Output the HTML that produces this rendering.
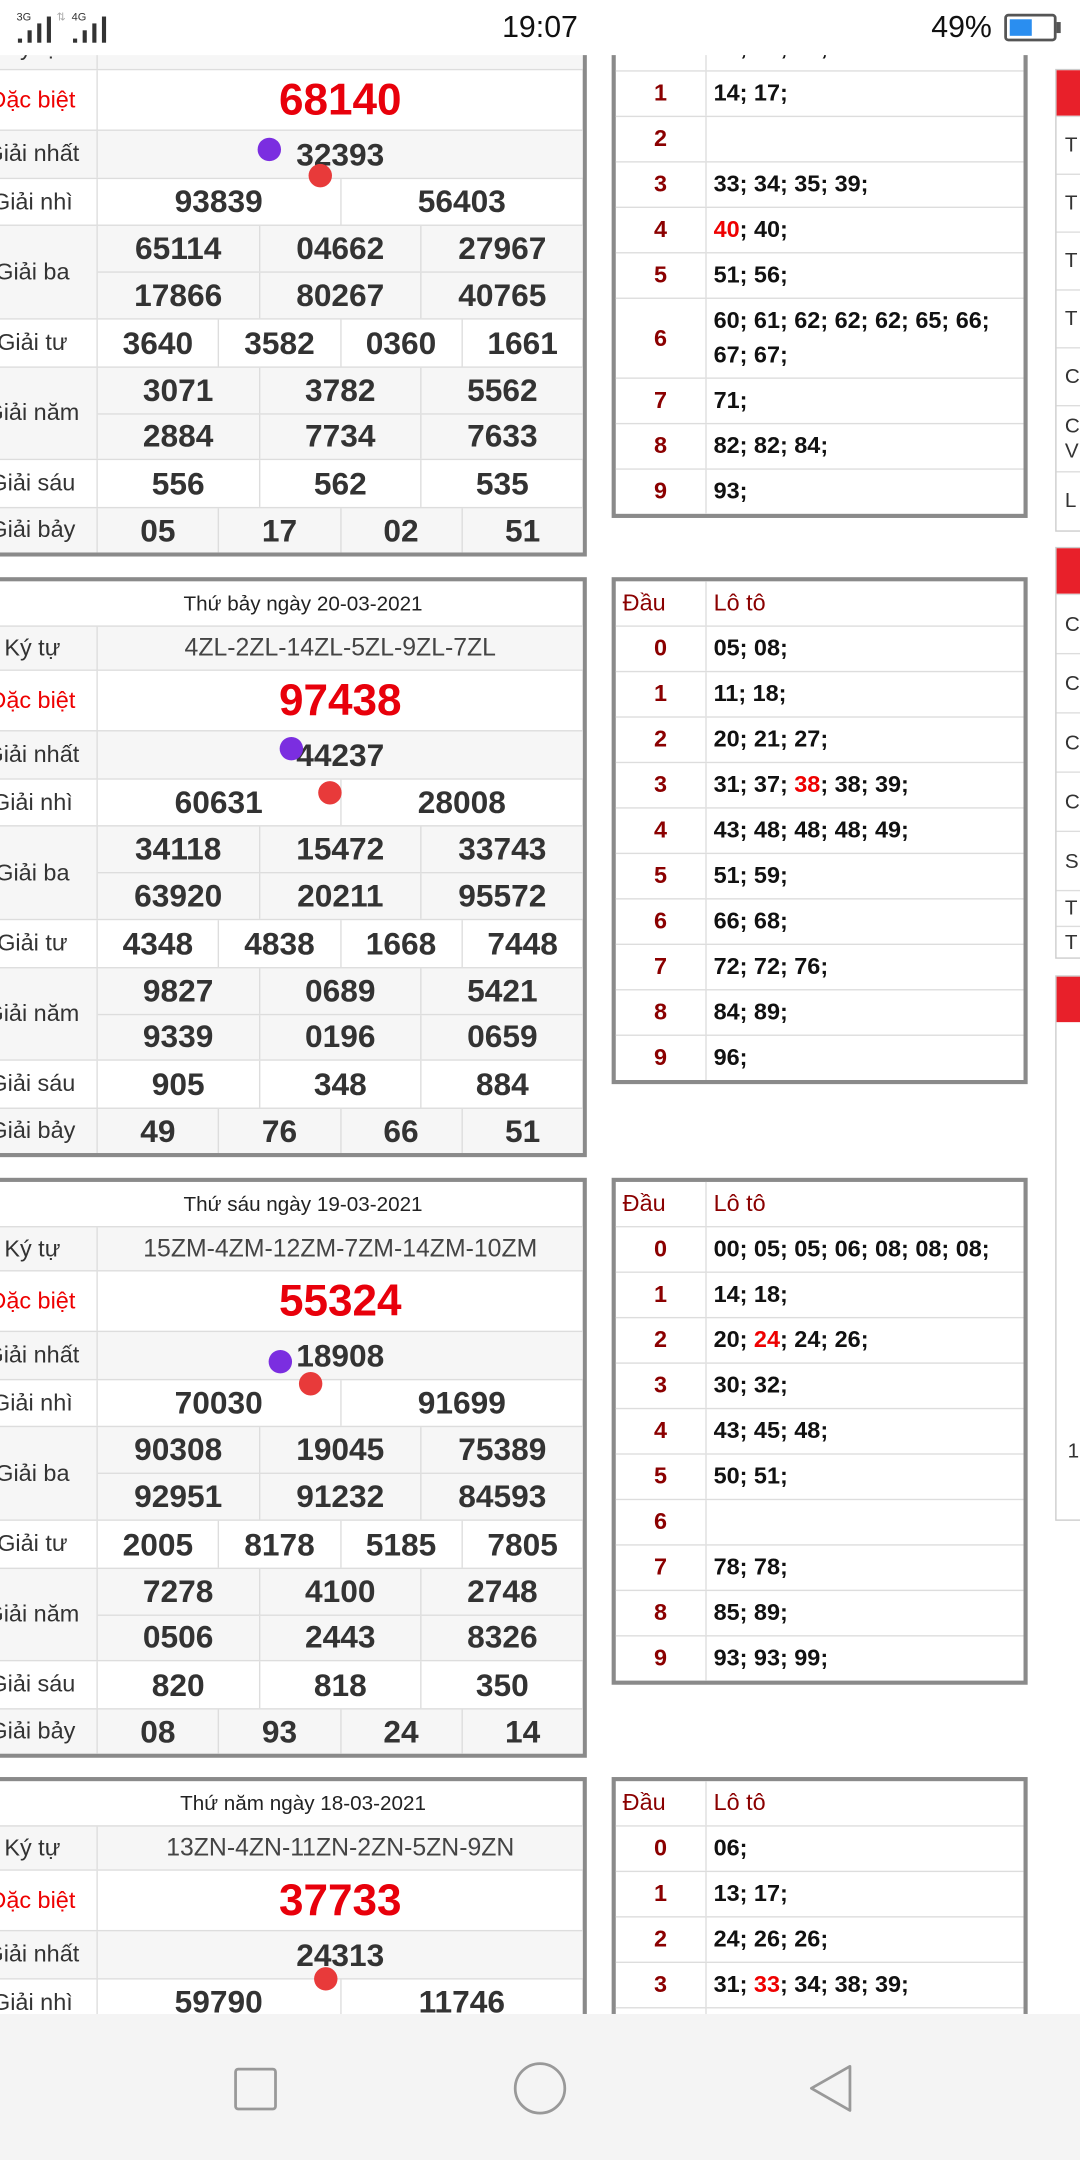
<!DOCTYPE html>
<html><head><meta charset="utf-8">
<style>
*{box-sizing:border-box;margin:0;padding:0}
html,body{width:1080px;height:2160px;overflow:hidden;background:#fff}
#w{position:absolute;left:0;top:0;width:784px;height:1568px;transform:scale(1.37755);transform-origin:0 0;font-family:"Liberation Sans",sans-serif;overflow:hidden;background:#fff}
.blk{position:absolute;left:-26px;width:452px;border:3px solid #8a8a8a;background:#fff}
.r{display:flex;border-top:1px solid #ddd}
.r:first-child{border-top:none}
.g{background:#f6f6f6}
.lb{width:94px;flex:none;display:flex;align-items:center;justify-content:center;font-size:17px;color:#333;border-right:1px solid #ddd}
.v{flex:1;display:flex;flex-direction:column}
.sr{flex:1;display:flex}
.sr+.sr{border-top:1px solid #ddd}
.sr>div{flex:1;display:flex;align-items:center;justify-content:center;font-weight:bold;font-size:23px;color:#333}
.sr>div+div{border-left:1px solid #ddd}
.hd{height:32px;display:flex;align-items:center;justify-content:center;font-size:15px;color:#222;padding-left:40px}
.db .sr>div{color:#e8000b;font-size:32px}
.db .lb{color:#e00}
.kt .sr>div{font-weight:normal;font-size:18px;color:#444}
.lt{position:absolute;left:444px;width:302px;border:3px solid #8a8a8a;background:#fff}
.lr{display:flex;height:33px;border-top:1px solid #ddd}
.lr:first-child{border-top:none}
.lr .d{width:66px;flex:none;border-right:1px solid #ddd;display:flex;align-items:center;justify-content:center;font-weight:bold;font-size:17px;color:#8b0000}
.lr .t{flex:1;display:block;padding-left:5px;font-weight:bold;font-size:17px;color:#111;line-height:32px;white-space:nowrap}
.lr.h .d,.lr.h .t{font-weight:normal;color:#8b0000}
.lr.h .d{justify-content:flex-start;padding-left:5px}
.red{color:#e00}
.dot{position:absolute;width:17px;height:17px;border-radius:50%}
.pu{background:#7b2ee0}.rd{background:#e83a3a}
.sb{position:absolute;left:766px;width:30px;border:1px solid #ccc;background:#fff}
.sb .rh{height:33px;background:#e8202a}
.sb .sx{border-top:1px solid #ddd;font-size:15px;color:#333;padding-left:6px;display:flex;align-items:center}
</style></head><body><div id="w">

<!-- Block 1 -->
<div class="blk" style="top:-17px">
 <div class="r"><div class="hd" style="width:100%"></div></div>
 <div class="r g kt" style="height:32px"><div class="lb">Ký tự</div><div class="v"><div class="sr"><div></div></div></div></div>
 <div class="r db" style="height:44px"><div class="lb">Đặc biệt</div><div class="v"><div class="sr"><div>68140</div></div></div></div>
 <div class="r g" style="height:35px"><div class="lb">Giải nhất</div><div class="v"><div class="sr"><div>32393</div></div></div></div>
 <div class="r" style="height:34px"><div class="lb">Giải nhì</div><div class="v"><div class="sr"><div>93839</div><div>56403</div></div></div></div>
 <div class="r g" style="height:68px"><div class="lb">Giải ba</div><div class="v"><div class="sr"><div>65114</div><div>04662</div><div>27967</div></div><div class="sr"><div>17866</div><div>80267</div><div>40765</div></div></div></div>
 <div class="r" style="height:35px"><div class="lb">Giải tư</div><div class="v"><div class="sr"><div>3640</div><div>3582</div><div>0360</div><div>1661</div></div></div></div>
 <div class="r g" style="height:67px"><div class="lb">Giải năm</div><div class="v"><div class="sr"><div>3071</div><div>3782</div><div>5562</div></div><div class="sr"><div>2884</div><div>7734</div><div>7633</div></div></div></div>
 <div class="r" style="height:35px"><div class="lb">Giải sáu</div><div class="v"><div class="sr"><div>556</div><div>562</div><div>535</div></div></div></div>
 <div class="r g" style="height:33px"><div class="lb">Giải bảy</div><div class="v"><div class="sr"><div>05</div><div>17</div><div>02</div><div>51</div></div></div></div>
</div>
<div class="dot pu" style="left:187px;top:100px"></div>
<div class="dot rd" style="left:224px;top:119px"></div>

<div class="lt" style="top:-17px">
 <div class="lr h" style="height:32px"><div class="d">Đầu</div><div class="t">Lô tô</div></div>
 <div class="lr"><div class="d">0</div><div class="t">02; 03; 06;</div></div>
 <div class="lr"><div class="d">1</div><div class="t">14; 17;</div></div>
 <div class="lr"><div class="d">2</div><div class="t"></div></div>
 <div class="lr"><div class="d">3</div><div class="t">33; 34; 35; 39;</div></div>
 <div class="lr"><div class="d">4</div><div class="t"><span class="red">40</span>; 40;</div></div>
 <div class="lr"><div class="d">5</div><div class="t">51; 56;</div></div>
 <div class="lr" style="height:58px"><div class="d">6</div><div class="t" style="line-height:25px;padding-top:3px">60; 61; 62; 62; 62; 65; 66;<br>67; 67;</div></div>
 <div class="lr"><div class="d">7</div><div class="t">71;</div></div>
 <div class="lr"><div class="d">8</div><div class="t">82; 82; 84;</div></div>
 <div class="lr"><div class="d">9</div><div class="t">93;</div></div>
</div>

<!-- Block 2 -->
<div class="blk" style="top:419px">
 <div class="r"><div class="hd" style="width:100%">Thứ bảy ngày 20-03-2021</div></div>
 <div class="r g kt" style="height:32px"><div class="lb">Ký tự</div><div class="v"><div class="sr"><div>4ZL-2ZL-14ZL-5ZL-9ZL-7ZL</div></div></div></div>
 <div class="r db" style="height:44px"><div class="lb">Đặc biệt</div><div class="v"><div class="sr"><div>97438</div></div></div></div>
 <div class="r g" style="height:35px"><div class="lb">Giải nhất</div><div class="v"><div class="sr"><div>44237</div></div></div></div>
 <div class="r" style="height:34px"><div class="lb">Giải nhì</div><div class="v"><div class="sr"><div>60631</div><div>28008</div></div></div></div>
 <div class="r g" style="height:68px"><div class="lb">Giải ba</div><div class="v"><div class="sr"><div>34118</div><div>15472</div><div>33743</div></div><div class="sr"><div>63920</div><div>20211</div><div>95572</div></div></div></div>
 <div class="r" style="height:35px"><div class="lb">Giải tư</div><div class="v"><div class="sr"><div>4348</div><div>4838</div><div>1668</div><div>7448</div></div></div></div>
 <div class="r g" style="height:67px"><div class="lb">Giải năm</div><div class="v"><div class="sr"><div>9827</div><div>0689</div><div>5421</div></div><div class="sr"><div>9339</div><div>0196</div><div>0659</div></div></div></div>
 <div class="r" style="height:35px"><div class="lb">Giải sáu</div><div class="v"><div class="sr"><div>905</div><div>348</div><div>884</div></div></div></div>
 <div class="r g" style="height:33px"><div class="lb">Giải bảy</div><div class="v"><div class="sr"><div>49</div><div>76</div><div>66</div><div>51</div></div></div></div>
</div>
<div class="dot pu" style="left:203px;top:535px"></div>
<div class="dot rd" style="left:231px;top:567px"></div>

<div class="lt" style="top:419px">
 <div class="lr h" style="height:32px"><div class="d">Đầu</div><div class="t">Lô tô</div></div>
 <div class="lr"><div class="d">0</div><div class="t">05; 08;</div></div>
 <div class="lr"><div class="d">1</div><div class="t">11; 18;</div></div>
 <div class="lr"><div class="d">2</div><div class="t">20; 21; 27;</div></div>
 <div class="lr"><div class="d">3</div><div class="t">31; 37; <span class="red">38</span>; 38; 39;</div></div>
 <div class="lr"><div class="d">4</div><div class="t">43; 48; 48; 48; 49;</div></div>
 <div class="lr"><div class="d">5</div><div class="t">51; 59;</div></div>
 <div class="lr"><div class="d">6</div><div class="t">66; 68;</div></div>
 <div class="lr"><div class="d">7</div><div class="t">72; 72; 76;</div></div>
 <div class="lr"><div class="d">8</div><div class="t">84; 89;</div></div>
 <div class="lr"><div class="d">9</div><div class="t">96;</div></div>
</div>

<!-- Block 3 -->
<div class="blk" style="top:855px">
 <div class="r"><div class="hd" style="width:100%">Thứ sáu ngày 19-03-2021</div></div>
 <div class="r g kt" style="height:32px"><div class="lb">Ký tự</div><div class="v"><div class="sr"><div>15ZM-4ZM-12ZM-7ZM-14ZM-10ZM</div></div></div></div>
 <div class="r db" style="height:44px"><div class="lb">Đặc biệt</div><div class="v"><div class="sr"><div>55324</div></div></div></div>
 <div class="r g" style="height:35px"><div class="lb">Giải nhất</div><div class="v"><div class="sr"><div>18908</div></div></div></div>
 <div class="r" style="height:34px"><div class="lb">Giải nhì</div><div class="v"><div class="sr"><div>70030</div><div>91699</div></div></div></div>
 <div class="r g" style="height:68px"><div class="lb">Giải ba</div><div class="v"><div class="sr"><div>90308</div><div>19045</div><div>75389</div></div><div class="sr"><div>92951</div><div>91232</div><div>84593</div></div></div></div>
 <div class="r" style="height:35px"><div class="lb">Giải tư</div><div class="v"><div class="sr"><div>2005</div><div>8178</div><div>5185</div><div>7805</div></div></div></div>
 <div class="r g" style="height:67px"><div class="lb">Giải năm</div><div class="v"><div class="sr"><div>7278</div><div>4100</div><div>2748</div></div><div class="sr"><div>0506</div><div>2443</div><div>8326</div></div></div></div>
 <div class="r" style="height:35px"><div class="lb">Giải sáu</div><div class="v"><div class="sr"><div>820</div><div>818</div><div>350</div></div></div></div>
 <div class="r g" style="height:33px"><div class="lb">Giải bảy</div><div class="v"><div class="sr"><div>08</div><div>93</div><div>24</div><div>14</div></div></div></div>
</div>
<div class="dot pu" style="left:195px;top:980px"></div>
<div class="dot rd" style="left:217px;top:996px"></div>

<div class="lt" style="top:855px">
 <div class="lr h" style="height:32px"><div class="d">Đầu</div><div class="t">Lô tô</div></div>
 <div class="lr"><div class="d">0</div><div class="t">00; 05; 05; 06; 08; 08; 08;</div></div>
 <div class="lr"><div class="d">1</div><div class="t">14; 18;</div></div>
 <div class="lr"><div class="d">2</div><div class="t">20; <span class="red">24</span>; 24; 26;</div></div>
 <div class="lr"><div class="d">3</div><div class="t">30; 32;</div></div>
 <div class="lr"><div class="d">4</div><div class="t">43; 45; 48;</div></div>
 <div class="lr"><div class="d">5</div><div class="t">50; 51;</div></div>
 <div class="lr"><div class="d">6</div><div class="t"></div></div>
 <div class="lr"><div class="d">7</div><div class="t">78; 78;</div></div>
 <div class="lr"><div class="d">8</div><div class="t">85; 89;</div></div>
 <div class="lr"><div class="d">9</div><div class="t">93; 93; 99;</div></div>
</div>

<!-- Block 4 -->
<div class="blk" style="top:1290px">
 <div class="r"><div class="hd" style="width:100%">Thứ năm ngày 18-03-2021</div></div>
 <div class="r g kt" style="height:32px"><div class="lb">Ký tự</div><div class="v"><div class="sr"><div>13ZN-4ZN-11ZN-2ZN-5ZN-9ZN</div></div></div></div>
 <div class="r db" style="height:44px"><div class="lb">Đặc biệt</div><div class="v"><div class="sr"><div>37733</div></div></div></div>
 <div class="r g" style="height:35px"><div class="lb">Giải nhất</div><div class="v"><div class="sr"><div>24313</div></div></div></div>
 <div class="r" style="height:34px"><div class="lb">Giải nhì</div><div class="v"><div class="sr"><div>59790</div><div>11746</div></div></div></div>
 <div class="r g" style="height:68px"><div class="lb">Giải ba</div><div class="v"><div class="sr"><div></div><div></div><div></div></div><div class="sr"><div></div><div></div><div></div></div></div></div>
</div>
<div class="dot rd" style="left:228px;top:1428px"></div>

<div class="lt" style="top:1290px">
 <div class="lr h" style="height:32px"><div class="d">Đầu</div><div class="t">Lô tô</div></div>
 <div class="lr"><div class="d">0</div><div class="t">06;</div></div>
 <div class="lr"><div class="d">1</div><div class="t">13; 17;</div></div>
 <div class="lr"><div class="d">2</div><div class="t">24; 26; 26;</div></div>
 <div class="lr"><div class="d">3</div><div class="t">31; <span class="red">33</span>; 34; 38; 39;</div></div>
 <div class="lr"><div class="d">4</div><div class="t"></div></div>
</div>

<!-- Sidebar -->
<div class="sb" style="top:50px;height:336px">
 <div class="rh"></div>
 <div class="sx" style="height:42px">T</div>
 <div class="sx" style="height:42px">T</div>
 <div class="sx" style="height:42px">T</div>
 <div class="sx" style="height:42px">T</div>
 <div class="sx" style="height:42px">C</div>
 <div class="sx" style="height:48px;line-height:18px">C<br>V</div>
 <div class="sx" style="height:42px">L</div>
</div>
<div class="sb" style="top:397px;height:299px">
 <div class="rh"></div>
 <div class="sx" style="height:43px">C</div>
 <div class="sx" style="height:43px">C</div>
 <div class="sx" style="height:43px">C</div>
 <div class="sx" style="height:43px">C</div>
 <div class="sx" style="height:43px">S</div>
 <div class="sx" style="height:26px">T</div>
 <div class="sx" style="height:24px">T</div>
</div>
<div class="sb" style="top:708px;height:396px">
 <div class="rh"></div>
 <div style="position:absolute;left:8px;top:336px;font-size:15px;color:#333">1</div>
</div>

<!-- Status bar -->
<div style="position:absolute;left:0;top:0;width:784px;height:40px;background:#fff">
 <div style="position:absolute;left:12px;top:8px;font-size:8px;color:#333">3G</div>
 <div style="position:absolute;left:13px;top:28px;width:3px;height:3px;background:#333"></div>
 <div style="position:absolute;left:20px;top:22px;width:3px;height:9px;background:#333"></div>
 <div style="position:absolute;left:27px;top:17px;width:3px;height:14px;background:#333"></div>
 <div style="position:absolute;left:34px;top:12px;width:3px;height:19px;background:#333"></div>
 <div style="position:absolute;left:41px;top:8px;font-size:8px;color:#aaa">⇅</div>
 <div style="position:absolute;left:52px;top:8px;font-size:8px;color:#333">4G</div>
 <div style="position:absolute;left:53px;top:28px;width:3px;height:3px;background:#333"></div>
 <div style="position:absolute;left:60px;top:22px;width:3px;height:9px;background:#333"></div>
 <div style="position:absolute;left:67px;top:17px;width:3px;height:14px;background:#333"></div>
 <div style="position:absolute;left:74px;top:12px;width:3px;height:19px;background:#333"></div>
 <div style="position:absolute;left:330px;top:7px;width:124px;text-align:center;font-size:22px;color:#111">19:07</div>
 <div style="position:absolute;left:676px;top:7px;font-size:22px;color:#111">49%</div>
 <div style="position:absolute;left:729px;top:10px;width:38px;height:20px;border:2px solid #555;border-radius:3px"><div style="position:absolute;left:2px;top:2px;width:16px;height:12px;background:#2a8ef0"></div></div>
 <div style="position:absolute;left:767px;top:16px;width:3px;height:8px;background:#555"></div>
</div>

<!-- Nav bar -->
<div style="position:absolute;left:0;top:1462px;width:784px;height:106px;background:#f4f4f4">
 <div style="position:absolute;left:170px;top:39px;width:31px;height:31px;border:2px solid #999;border-radius:3px"></div>
 <div style="position:absolute;left:373px;top:35px;width:38px;height:38px;border:2px solid #999;border-radius:50%"></div>
 <svg style="position:absolute;left:585px;top:36px" width="36" height="36"><path d="M32 2 L4 18 L32 34 Z" fill="none" stroke="#999" stroke-width="2" stroke-linejoin="round"/></svg>
</div>

</div></body></html>
